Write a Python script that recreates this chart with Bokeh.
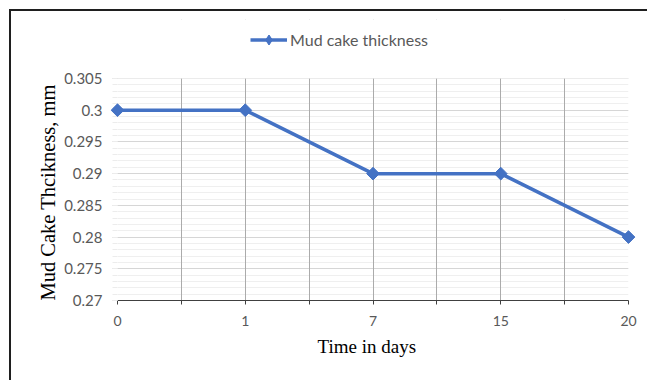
import numpy as np
from bokeh.plotting import figure
from bokeh.models import (ColumnDataSource, FixedTicker, NumeralTickFormatter, Range1d,
                          Legend, LegendItem, BoxAnnotation, Title)
from bokeh.embed import file_html
from bokeh.resources import INLINE

# Mud cake thickness measured over time
days = ["0", "1", "7", "15", "20"]
thickness = [0.300, 0.300, 0.290, 0.290, 0.280]

y_major = [0.27, 0.275, 0.28, 0.285, 0.29, 0.295, 0.30, 0.305]
y_minor = [round(0.27 + 0.001 * i, 3) for i in range(36)]
y_lo, y_hi = y_major[0], y_major[-1]

pos = list(range(len(days)))
src = ColumnDataSource(data=dict(x=pos, y=thickness, day=days))

BLUE = "#4472C4"
GREY_TXT = "#595959"

# plotting area: 222 px tall for the data span, with extra room above it for the legend
data_px, extra_px = 222, 59
y_top = y_hi + (y_hi - y_lo) * extra_px / data_px

p = figure(width=636, height=369, frame_width=511, frame_height=data_px + extra_px,
           min_border_left=106, min_border_right=19, min_border_top=369 - 80 - data_px - extra_px,
           min_border_bottom=80,
           x_range=Range1d(0, len(days) - 1), y_range=Range1d(y_lo, y_top),
           output_backend="svg", toolbar_location=None,
           background_fill_color="white", border_fill_color="white")
p.outline_line_color = None
p.styles = {"margin-left": "9px", "margin-top": "9px",
            "border-left": "2px solid #1f1f1f", "border-top": "2px solid #1f1f1f"}

# x axis: categories at integer positions, gridlines also halfway between
half_ticks = [i * 0.5 for i in range(2 * len(days) - 1)]
p.xaxis.ticker = FixedTicker(ticks=half_ticks)
overrides = {}
for t in half_ticks:
    overrides[t] = days[int(t)] if float(t).is_integer() else ""
p.xaxis.major_label_overrides = overrides
p.xaxis.minor_tick_line_color = None
p.xaxis.major_tick_in = 0
p.xaxis.major_tick_out = 4
p.xaxis.major_tick_line_color = "#404040"
p.xaxis.axis_line_color = "#404040"
p.xaxis.axis_line_width = 1.2
p.xaxis.major_label_text_font = "Lato"
p.xaxis.major_label_text_font_size = "14px"
p.xaxis.major_label_text_color = GREY_TXT
p.xaxis.major_label_standoff = 11

p.xgrid.ticker = FixedTicker(ticks=half_ticks)
p.xgrid.grid_line_color = "#ababab"
p.xgrid.grid_line_width = 1

# x title
p.add_layout(Title(text="Time in days", align="left", offset=200, standoff=11,
                   text_font="Liberation Serif", text_font_size="19px",
                   text_font_style="normal", text_color="black"), "below")

# y axis
p.yaxis.ticker = FixedTicker(ticks=y_major, minor_ticks=y_minor)
p.yaxis.formatter = NumeralTickFormatter(format="0.[000]")
p.yaxis.axis_line_color = None
p.yaxis.major_tick_in = 0
p.yaxis.major_tick_out = 5
p.yaxis.minor_tick_in = 0
p.yaxis.minor_tick_out = 5
p.yaxis.major_tick_line_color = "#d0d0d0"
p.yaxis.minor_tick_line_color = "#ececec"
p.yaxis.major_label_text_font = "Lato"
p.yaxis.major_label_text_font_size = "15px"
p.yaxis.major_label_text_color = GREY_TXT
p.yaxis.major_label_standoff = 10
p.yaxis.bounds = (y_lo, y_hi)

# y title starts at the bottom of the data span
p.add_layout(Title(text="Mud Cake Thcikness, mm", align="left", offset=0, standoff=6,
                   text_font="Liberation Serif", text_font_size="20.5px",
                   text_font_style="normal", text_color="black"), "left")

# horizontal grid drawn first so the vertical lines stay solid on top
p.ygrid.ticker = FixedTicker(ticks=y_major, minor_ticks=y_minor)
p.ygrid.grid_line_color = "#d6d6d6"
p.ygrid.minor_grid_line_color = "#efefef"
p.ygrid.level = "image"

# blank band above the data span, where the legend sits
p.add_layout(BoxAnnotation(bottom=y_hi, fill_color="white", fill_alpha=1.0,
                           line_color=None, level="glyph"))

line_r = p.line("x", "y", source=src, line_color=BLUE, line_width=3.5, level="overlay")
pts_r = p.scatter("x", "y", source=src, marker="square", angle=np.pi / 4, size=9,
                  fill_color=BLUE, line_color=BLUE, level="overlay")
# diamond used for the legend swatch only
key_r = p.scatter("x", "y", source=src, marker="diamond", size=9,
                  fill_color=BLUE, line_color=BLUE, visible=False)

legend = Legend(items=[LegendItem(label="Mud cake thickness", renderers=[line_r, key_r])],
                location=(133, 248), orientation="horizontal",
                padding=0, margin=0, spacing=0, click_policy="none",
                glyph_width=37, glyph_height=25, label_height=25, label_standoff=3,
                label_text_font="Lato", label_text_font_size="16px",
                label_text_color=GREY_TXT,
                border_line_color=None, background_fill_alpha=0)
p.add_layout(legend, "center")

open("out.html", "w").write(file_html(p, INLINE))
